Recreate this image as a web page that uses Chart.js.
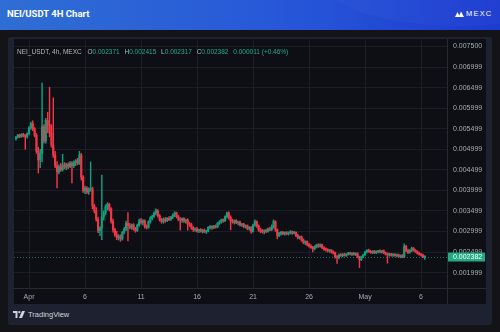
<!DOCTYPE html>
<html>
<head>
<meta charset="utf-8">
<script src="https://cdn.jsdelivr.net/npm/chart.js@4.4.1/dist/chart.umd.min.js"></script>
<style>
  html, body { margin: 0; padding: 0; }
  body { width: 500px; height: 332px; background: #131318; position: relative; overflow: hidden; font-family: "Liberation Sans", Arial, sans-serif; }
  .header { position: absolute; left: 0; top: 0; width: 500px; height: 30px; overflow: hidden;
            background: linear-gradient(90deg, #2f6ed4 0%, #2758d8 55%, #1c3bd0 100%); }
  .header .wave { position: absolute; left: 330px; top: -52px; width: 260px; height: 78px; border-radius: 50%; background: rgba(255,255,255,0.025); }
  .title { position: absolute; left: 7px; top: 8px; color: #fff; font: bold 9.5px Roboto, sans-serif; }
  .logo { position: absolute; left: 455px; top: 9px; color: #fff; font: 7.5px "Liberation Sans", sans-serif; letter-spacing: 1.2px; display: flex; align-items: center; }
  .logo svg { margin-right: 2px; }
  .frame { position: absolute; left: 8px; top: 37px; width: 484px; height: 288px; background: #1d2130; border-radius: 2px; }
  #chart { position: absolute; left: 14px; top: 39px; background: #0d0f15; }
  .legend { position: absolute; left: 17px; top: 48px; font-size: 6.5px; color: #b2b5be; white-space: nowrap; }
  .legend b { font-weight: normal; color: #22ab94; margin-right: 3px; }
  .legend .sym { margin-right: 4px; }
  .footer { position: absolute; left: 13px; top: 310px; color: #d1d4dc; font-size: 7.5px; display: flex; align-items: center; }
  .footer svg { margin-right: 3px; }
</style>
</head>
<body>
<div class="header">
  <div class="wave"></div>
  <div class="title">NEI/USDT 4H Chart</div>
  <div class="logo">
    <svg width="9" height="6" viewBox="0 0 9 6"><polygon points="0,6 2.5,1 5,6" fill="#fff"/><polygon points="3.5,6 6,0.5 9,6" fill="#fff"/></svg>MEXC
  </div>
</div>
<div class="frame"></div>
<canvas id="chart" width="472" height="265"></canvas>
<div class="legend"><span class="sym">NEI_USDT, 4h, MEXC</span> O<b>0.002371</b> H<b>0.002415</b> L<b>0.002317</b> C<b>0.002382</b> <b>0.000011 (+0.46%)</b></div>
<div class="footer">
  <svg width="12" height="7" viewBox="0 0 12 7"><path d="M0 0h4.5v7h-2v-5h-2.5z" fill="#d1d4dc"/><circle cx="6.3" cy="1.2" r="1.1" fill="#d1d4dc"/><path d="M9 0h3l-3 7h-3z" fill="#d1d4dc"/></svg>TradingView
</div>
<script>
// 4h candles, Mar 30 20:00 -> May 6 08:00, one row per day
const opens = [.00526,
  .00530,.00534,.00531,.00536,.00533,.00530,
  .00538,.00552,.00562,.00550,.00534,.00495,
  .00474,.00490,.00555,.00520,.00570,.00560,
  .00540,.00510,.00486,.00460,.00445,.00458,
  .00450,.00462,.00456,.00463,.00458,.00466,
  .00460,.00468,.00472,.00466,.00486,.00432,
  .00399,.00405,.00396,.00402,.00404,.00362,
  .00350,.00330,.00302,.00308,.00335,.00345,
  .00360,.00366,.00355,.00325,.00304,.00292,
  .00285,.00288,.00282,.00298,.00306,.00320,
  .00314,.00310,.00316,.00306,.00302,.00315,
  .00326,.00322,.00326,.00312,.00310,.00324,
  .00333,.00337,.00345,.00350,.00338,.00328,
  .00324,.00330,.00326,.00332,.00329,.00335,
  .00340,.00345,.00336,.00330,.00328,.00331,
  .00325,.00328,.00318,.00316,.00309,.00304,
  .00306,.00301,.00304,.00300,.00303,.00299,
  .00301,.00310,.00312,.00309,.00313,.00311,
  .00320,.00324,.00328,.00326,.00336,.00345,
  .00334,.00326,.00323,.00326,.00321,.00323,
  .00316,.00318,.00312,.00314,.00307,.00310,
  .00300,.00316,.00324,.00313,.00304,.00301,
  .00299,.00302,.00300,.00306,.00304,.00312,
  .00324,.00304,.00290,.00295,.00298,.00294,
  .00297,.00294,.00297,.00299,.00296,.00298,
  .00290,.00285,.00287,.00279,.00273,.00275,
  .00268,.00264,.00261,.00258,.00263,.00267,
  .00264,.00268,.00260,.00257,.00255,.00253,
  .00254,.00250,.00248,.00238,.00236,.00243,
  .00241,.00244,.00242,.00245,.00247,.00245,
  .00246,.00244,.00246,.00238,.00231,.00238,
  .00243,.00250,.00254,.00251,.00249,.00252,
  .00248,.00251,.00252,.00250,.00253,.00248,
  .00245,.00243,.00245,.00242,.00244,.00241,
  .00243,.00239,.00241,.00238,.00264,.00253,
  .00249,.00254,.00259,.00254,.00251,.00247,
  .00244,.00242,.002371];

const highs = [.00531,
  .00536,.00537,.00538,.00539,.00536,.00540,
  .00555,.00566,.00569,.00553,.00538,.00505,
  .00500,.00661,.00560,.00575,.00590,.00651,
  .00560,.00625,.00495,.00470,.00462,.00466,
  .00488,.00468,.00466,.00467,.00470,.00470,
  .00472,.00475,.00478,.00495,.00490,.00436,
  .00410,.00409,.00406,.00469,.00408,.00366,
  .00358,.00335,.00312,.00437,.00350,.00365,
  .00370,.00369,.00358,.00330,.00308,.00300,
  .00292,.00292,.00300,.00310,.00325,.00346,
  .00320,.00318,.00319,.00310,.00318,.00330,
  .00332,.00329,.00328,.00316,.00326,.00336,
  .00340,.00348,.00355,.00353,.00341,.00332,
  .00333,.00334,.00334,.00336,.00337,.00343,
  .00348,.00347,.00339,.00334,.00333,.00334,
  .00330,.00331,.00322,.00320,.00312,.00309,
  .00310,.00306,.00307,.00305,.00306,.00303,
  .00312,.00314,.00314,.00315,.00316,.00322,
  .00326,.00330,.00331,.00338,.00347,.00348,
  .00338,.00330,.00328,.00329,.00325,.00325,
  .00320,.00320,.00316,.00316,.00312,.00312,
  .00318,.00328,.00326,.00316,.00308,.00305,
  .00304,.00306,.00308,.00310,.00316,.00328,
  .00326,.00306,.00298,.00300,.00300,.00299,
  .00300,.00299,.00302,.00301,.00300,.00299,
  .00293,.00289,.00289,.00282,.00277,.00277,
  .00271,.00268,.00264,.00265,.00269,.00270,
  .00270,.00269,.00263,.00260,.00258,.00256,
  .00256,.00253,.00250,.00241,.00245,.00246,
  .00246,.00247,.00246,.00249,.00250,.00248,
  .00249,.00248,.00248,.00240,.00240,.00245,
  .00252,.00256,.00257,.00254,.00253,.00254,
  .00253,.00254,.00255,.00254,.00255,.00250,
  .00248,.00247,.00247,.00246,.00246,.00245,
  .00245,.00243,.00244,.00270,.00266,.00257,
  .00256,.00262,.00261,.00256,.00253,.00250,
  .00247,.00245,.002415];

const lows = [.00522,
  .00527,.00528,.00529,.00530,.00500,.00527,
  .00535,.00548,.00545,.00530,.00490,.00442,
  .00455,.00470,.00515,.00515,.00540,.00530,
  .00505,.00480,.00455,.00406,.00440,.00446,
  .00447,.00452,.00450,.00453,.00455,.00418,
  .00455,.00460,.00462,.00463,.00425,.00395,
  .00392,.00392,.00390,.00398,.00355,.00345,
  .00325,.00297,.00290,.00280,.00328,.00340,
  .00352,.00350,.00320,.00298,.00288,.00280,
  .00279,.00276,.00279,.00294,.00302,.00277,
  .00306,.00305,.00303,.00298,.00300,.00312,
  .00318,.00316,.00308,.00306,.00308,.00320,
  .00328,.00334,.00340,.00335,.00325,.00320,
  .00320,.00322,.00324,.00326,.00327,.00331,
  .00336,.00333,.00326,.00303,.00322,.00322,
  .00320,.00303,.00312,.00305,.00300,.00300,
  .00298,.00297,.00298,.00296,.00297,.00295,
  .00299,.00306,.00305,.00307,.00308,.00309,
  .00317,.00320,.00322,.00324,.00333,.00330,
  .00304,.00320,.00318,.00319,.00316,.00313,
  .00312,.00309,.00308,.00304,.00303,.00295,
  .00298,.00312,.00310,.00300,.00297,.00296,
  .00294,.00297,.00298,.00301,.00302,.00308,
  .00300,.00282,.00287,.00291,.00292,.00291,
  .00292,.00291,.00294,.00293,.00294,.00287,
  .00282,.00281,.00276,.00270,.00268,.00265,
  .00262,.00259,.00250,.00255,.00260,.00261,
  .00262,.00258,.00254,.00252,.00250,.00249,
  .00247,.00245,.00235,.00222,.00233,.00239,
  .00238,.00240,.00239,.00242,.00243,.00241,
  .00242,.00241,.00236,.00212,.00229,.00236,
  .00241,.00247,.00249,.00247,.00246,.00246,
  .00246,.00248,.00248,.00247,.00246,.00243,
  .00223,.00240,.00240,.00239,.00239,.00238,
  .00237,.00236,.00236,.00236,.00250,.00246,
  .00247,.00251,.00252,.00249,.00245,.00242,
  .00240,.00237,.002317];

const closes = [.00530,
  .00534,.00531,.00536,.00533,.00530,.00538,
  .00552,.00562,.00550,.00534,.00495,.00474,
  .00490,.00555,.00520,.00570,.00560,.00540,
  .00510,.00486,.00460,.00445,.00458,.00450,
  .00462,.00456,.00463,.00458,.00466,.00460,
  .00468,.00472,.00466,.00486,.00432,.00399,
  .00405,.00396,.00402,.00404,.00362,.00350,
  .00330,.00302,.00308,.00335,.00345,.00360,
  .00366,.00355,.00325,.00304,.00292,.00285,
  .00288,.00282,.00298,.00306,.00320,.00314,
  .00310,.00316,.00306,.00302,.00315,.00326,
  .00322,.00326,.00312,.00310,.00324,.00333,
  .00337,.00345,.00350,.00338,.00328,.00324,
  .00330,.00326,.00332,.00329,.00335,.00340,
  .00345,.00336,.00330,.00328,.00331,.00325,
  .00328,.00318,.00316,.00309,.00304,.00306,
  .00301,.00304,.00300,.00303,.00299,.00301,
  .00310,.00312,.00309,.00313,.00311,.00320,
  .00324,.00328,.00326,.00336,.00345,.00334,
  .00326,.00323,.00326,.00321,.00323,.00316,
  .00318,.00312,.00314,.00307,.00310,.00300,
  .00316,.00324,.00313,.00304,.00301,.00299,
  .00302,.00300,.00306,.00304,.00312,.00324,
  .00304,.00290,.00295,.00298,.00294,.00297,
  .00294,.00297,.00299,.00296,.00298,.00290,
  .00285,.00287,.00279,.00273,.00275,.00268,
  .00264,.00261,.00258,.00263,.00267,.00264,
  .00268,.00260,.00257,.00255,.00253,.00254,
  .00250,.00248,.00238,.00236,.00243,.00241,
  .00244,.00242,.00245,.00247,.00245,.00246,
  .00244,.00246,.00238,.00231,.00238,.00243,
  .00250,.00254,.00251,.00249,.00252,.00248,
  .00251,.00252,.00250,.00253,.00248,.00245,
  .00243,.00245,.00242,.00244,.00241,.00243,
  .00239,.00241,.00238,.00264,.00253,.00249,
  .00254,.00259,.00254,.00251,.00247,.00244,
  .00242,.002371,.002382];

// x ticks: candle index of each labelled day (00:00)
const xTickIndex = [7, 37, 67, 97, 127, 157, 187, 217];
const xTickLabels = ['Apr', '6', '11', '16', '21', '26', 'May', '6'];
const yTickLabels = ['0.007500', '0.006999', '0.006499', '0.005999', '0.005499', '0.004999',
                     '0.004499', '0.003999', '0.003499', '0.002999', '0.002499', '0.001999'];

const UP = '#0f9f80';
const DOWN = '#f23645';
const candleColors = opens.map((o, i) => closes[i] >= o ? UP : DOWN);

Chart.defaults.font.family = '"Liberation Sans", Arial, sans-serif';
Chart.defaults.font.size = 7;
Chart.defaults.color = '#a7aab3';

// last price line + label, and the pane separators
const lastPrice = {
  id: 'lastPrice',
  afterDatasetsDraw(chart) {
    const { ctx, chartArea, scales: { y } } = chart;
    const py = Math.round(y.getPixelForValue(closes[closes.length - 1])) + 0.5;
    ctx.save();
    ctx.strokeStyle = 'rgba(34,171,148,0.6)';
    ctx.lineWidth = 1;
    ctx.setLineDash([1, 2]);
    ctx.beginPath();
    ctx.moveTo(chartArea.left, py);
    ctx.lineTo(chartArea.right, py);
    ctx.stroke();
    ctx.restore();
  },
  afterDraw(chart) {
    const { ctx, chartArea, scales: { y }, width, height } = chart;
    const v = closes[closes.length - 1];
    const py = Math.round(y.getPixelForValue(v));
    ctx.save();
    ctx.strokeStyle = '#262a36';
    ctx.lineWidth = 1;
    ctx.beginPath();
    ctx.moveTo(0, chartArea.bottom + 0.5);
    ctx.lineTo(width, chartArea.bottom + 0.5);
    ctx.moveTo(chartArea.right + 0.5, 0);
    ctx.lineTo(chartArea.right + 0.5, height);
    ctx.stroke();
    ctx.fillStyle = '#22ab84';
    ctx.fillRect(chartArea.right + 1, py - 4.5, 37, 9);
    ctx.fillStyle = '#ffffff';
    ctx.font = '7px "Liberation Sans", Arial, sans-serif';
    ctx.textBaseline = 'middle';
    ctx.fillText(v.toFixed(6), chartArea.right + 6, py + 0.5);
    ctx.restore();
  }
};

const ctx = document.getElementById('chart').getContext('2d');
new Chart(ctx, {
  type: 'bar',
  data: {
    datasets: [
      {
        // wicks
        data: opens.map((o, i) => ({ x: i, y: [lows[i], highs[i]] })),
        backgroundColor: candleColors,
        barThickness: 0.8,
        grouped: false,
        order: 2
      },
      {
        // bodies
        data: opens.map((o, i) => ({ x: i, y: [o, closes[i]] })),
        backgroundColor: candleColors,
        barThickness: 1.5,
        minBarLength: 1,
        grouped: false,
        order: 1
      }
    ]
  },
  options: {
    responsive: false,
    animation: false,
    devicePixelRatio: 1,
    layout: { padding: 0 },
    scales: {
      x: {
        type: 'linear',
        offset: false,
        min: -1.04,
        max: 230.9,
        grid: { color: '#1a1d26', drawTicks: false, offset: false },
        border: { display: false },
        ticks: { padding: 5, maxRotation: 0, autoSkip: false, callback: (v, i) => xTickLabels[i] },
        afterBuildTicks: s => { s.ticks = xTickIndex.map(v => ({ value: v })); },
        afterFit: s => { s.height = 16; s.paddingLeft = 0; s.paddingRight = 0; }
      },
      y: {
        position: 'right',
        min: 0.001624,
        max: 0.0076825,
        grid: { color: '#1a1d26', drawTicks: false },
        border: { display: false },
        ticks: { padding: 6, callback: (v, i) => yTickLabels[i] },
        afterBuildTicks: s => { s.ticks = yTickLabels.map(t => ({ value: Number(t) })); },
        afterFit: s => { s.width = 39; s.paddingTop = 0; s.paddingBottom = 0; }
      }
    },
    plugins: {
      legend: { display: false },
      tooltip: { enabled: false }
    }
  },
  plugins: [lastPrice]
});
</script>
</body>
</html>
